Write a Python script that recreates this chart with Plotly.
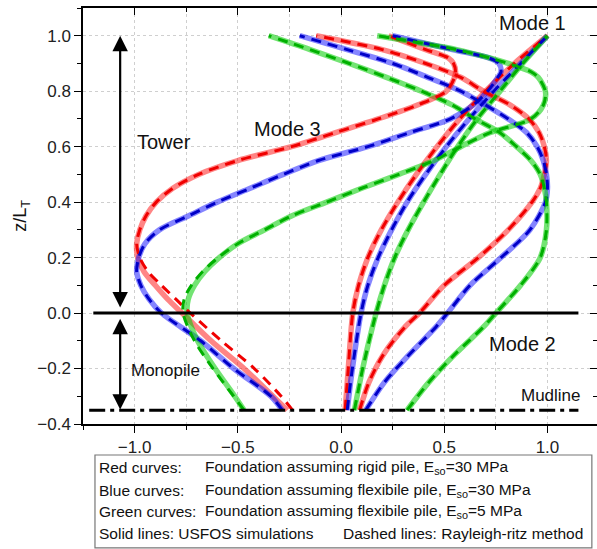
import plotly.graph_objects as go

# ---------------------------------------------------------------------------
# Normalised mode shapes x(z) of the tower + monopile, z = height / L_T
# ---------------------------------------------------------------------------
Z_M1 = [-0.35, -0.2, 0.0, 0.1, 0.2, 0.3, 0.4, 0.5, 0.6, 0.7, 0.8, 0.9, 1.0]
RED_M1 = [0.02, 0.035, 0.057, 0.085, 0.13, 0.195, 0.275, 0.365, 0.465, 0.575, 0.70, 0.84, 1.0]
BLUE_M1 = [0.03, 0.055, 0.097, 0.13, 0.18, 0.245, 0.32, 0.41, 0.51, 0.62, 0.74, 0.87, 1.0]
GREEN_M1 = [0.065, 0.105, 0.17, 0.21, 0.26, 0.325, 0.40, 0.48, 0.565, 0.66, 0.77, 0.88, 1.0]

Z_M2 = [-0.35, -0.25, -0.15, -0.05, 0.0, 0.1, 0.2, 0.3, 0.4, 0.45, 0.5, 0.55, 0.6,
        0.65, 0.7, 0.75, 0.8, 0.85, 0.9, 0.95, 1.0]
RED_M2 = [0.09, 0.135, 0.205, 0.31, 0.38, 0.50, 0.665, 0.81, 0.925, 0.965, 0.985, 0.995,
          0.985, 0.96, 0.91, 0.82, 0.69, 0.58, 0.41, 0.20, -0.12]
BLUE_M2 = [0.12, 0.21, 0.33, 0.46, 0.516, 0.625, 0.775, 0.915, 0.99, 1.0, 0.995, 0.98,
           0.95, 0.90, 0.81, 0.70, 0.58, 0.42, 0.25, 0.03, -0.20]
GREEN_M2 = [0.32, 0.425, 0.55, 0.69, 0.75, 0.87, 0.965, 0.995, 0.995, 0.985, 0.965, 0.92,
            0.85, 0.77, 0.65, 0.54, 0.39, 0.22, 0.04, -0.15, -0.35]

Z_M3 = [-0.35, -0.3, -0.2, -0.1, 0.0, 0.05, 0.1, 0.15, 0.2, 0.25, 0.3, 0.35, 0.4, 0.45,
        0.5, 0.55, 0.6, 0.65, 0.7, 0.75, 0.8, 0.85, 0.87, 0.9, 0.92, 0.95, 1.0]
RED_M3_SOLID = [-0.26, -0.33, -0.47, -0.63, -0.77, -0.84, -0.90, -0.955, -0.985, -0.99, -0.975,
                -0.945, -0.895, -0.815, -0.69, -0.50, -0.24, -0.03, 0.18, 0.37, 0.51, 0.55,
                0.555, 0.545, 0.52, 0.41, 0.23]
RED_M3_DASH = [-0.235, -0.29, -0.42, -0.58, -0.73, -0.80, -0.87, -0.935, -0.975, -0.99, -0.975,
               -0.945, -0.895, -0.815, -0.69, -0.50, -0.24, -0.03, 0.18, 0.37, 0.51, 0.55,
               0.555, 0.545, 0.52, 0.41, 0.23]
BLUE_M3 = [-0.285, -0.34, -0.52, -0.68, -0.87, -0.93, -0.97, -0.99, -0.98, -0.95, -0.88,
           -0.74, -0.60, -0.44, -0.28, -0.11, 0.13, 0.33, 0.53, 0.64, 0.71, 0.76, 0.775,
           0.765, 0.716, 0.54, 0.25]
GREEN_M3_SOLID = [-0.47, -0.515, -0.61, -0.695, -0.745, -0.74, -0.71, -0.66, -0.59, -0.50,
                  -0.37, -0.24, -0.07, 0.10, 0.28, 0.45, 0.58, 0.72, 0.92, 0.98, 0.99, 0.955,
                  0.92, 0.81, 0.72, 0.56, 0.175]
GREEN_M3_DASH = [-0.47, -0.52, -0.62, -0.71, -0.765, -0.76, -0.725, -0.67, -0.595, -0.50,
                 -0.37, -0.24, -0.07, 0.10, 0.28, 0.45, 0.58, 0.72, 0.92, 0.98, 0.99, 0.955,
                 0.92, 0.81, 0.72, 0.56, 0.175]

# Reference levels: seabed (z = 0) and mudline
SEABED_Z = 0.0
SEABED_X = [-1.2, 1.15]
MUDLINE_Z = -0.35
MUDLINE_X = [-1.22, 1.15]

# Extent arrows for the tower and the monopile
ARROW_X = -1.07
TOWER_SPAN = [0.015, 1.0]
PILE_SPAN = [-0.015, -0.348]

X_TICKS = [-1.0, -0.5, 0.0, 0.5, 1.0]
Y_TICKS = [-0.4, -0.2, 0.0, 0.2, 0.4, 0.6, 0.8, 1.0]

FONT = "Arial, Liberation Sans, sans-serif"

SOLID = {"red": "rgba(255,0,0,0.48)", "blue": "rgba(0,0,255,0.48)",
         "green": "rgba(0,205,0,0.55)"}
DASHED = {"red": "#f00000", "blue": "#0000c8", "green": "#00b000"}

solid_curves = [
    ("red", Z_M1, RED_M1), ("blue", Z_M1, BLUE_M1), ("green", Z_M1, GREEN_M1),
    ("red", Z_M2, RED_M2), ("blue", Z_M2, BLUE_M2), ("green", Z_M2, GREEN_M2),
    ("red", Z_M3, RED_M3_SOLID), ("blue", Z_M3, BLUE_M3), ("green", Z_M3, GREEN_M3_SOLID),
]
dashed_curves = [
    ("red", Z_M1, RED_M1), ("blue", Z_M1, BLUE_M1), ("green", Z_M1, GREEN_M1),
    ("red", Z_M2, RED_M2), ("blue", Z_M2, BLUE_M2), ("green", Z_M2, GREEN_M2),
    ("red", Z_M3, RED_M3_DASH), ("blue", Z_M3, BLUE_M3), ("green", Z_M3, GREEN_M3_DASH),
]

fig = go.Figure()

# USFOS simulations (solid, translucent)
for colour, z, x in solid_curves:
    fig.add_trace(go.Scatter(x=x, y=z, mode="lines", showlegend=False, hoverinfo="skip",
                             line=dict(color=SOLID[colour], width=5.5, shape="spline",
                                       smoothing=0.85)))

# Rayleigh-Ritz results (dashed)
for colour, z, x in dashed_curves:
    fig.add_trace(go.Scatter(x=x, y=z, mode="lines", showlegend=False, hoverinfo="skip",
                             line=dict(color=DASHED[colour], width=3, shape="spline",
                                       smoothing=0.85, dash="10px,7px")))

# Seabed and mudline
fig.add_trace(go.Scatter(x=SEABED_X, y=[SEABED_Z] * 2, mode="lines", showlegend=False,
                         hoverinfo="skip", line=dict(color="black", width=3)))
fig.add_trace(go.Scatter(x=MUDLINE_X, y=[MUDLINE_Z] * 2, mode="lines", showlegend=False,
                         hoverinfo="skip",
                         line=dict(color="black", width=3, dash="16px,5px,4px,5px")))

# Mirror axes carrying the inward ticks on the top and right frame
fig.add_trace(go.Scatter(x=[None], y=[None], xaxis="x2", yaxis="y2", showlegend=False,
                         hoverinfo="skip"))

annotations = []
for span in (TOWER_SPAN, PILE_SPAN):
    annotations.append(dict(x=ARROW_X, y=span[1], ax=ARROW_X, ay=span[0], xref="x", yref="y",
                            axref="x", ayref="y", text="", showarrow=True, arrowhead=2,
                            arrowside="end+start", arrowsize=1.4, arrowwidth=2.2,
                            arrowcolor="black", standoff=0, startstandoff=0))

labels = [
    ("Tower", -1.0, 0.617, 20, "left"),
    ("Mode 3", -0.259, 0.664, 20, "center"),
    ("Mode 1", 0.927, 1.046, 20, "center"),
    ("Mode 2", 0.879, -0.112, 20, "center"),
    ("Monopile", -0.848, -0.208, 17, "center"),
    ("Mudline", 1.019, -0.298, 17, "center"),
]
for text, x, y, size, anchor in labels:
    annotations.append(dict(x=x, y=y, xref="x", yref="y", text=text, showarrow=False,
                            xanchor=anchor, yanchor="middle",
                            font=dict(family=FONT, size=size, color="#111")))

# Key box below the axes
key_left = [
    "Red curves:", "Blue curves:", "Green curves:", "Solid lines: USFOS simulations",
]
key_right = [
    "Foundation assuming rigid pile, E<sub>so</sub>=30 MPa",
    "Foundation assuming flexibile pile, E<sub>so</sub>=30 MPa",
    "Foundation assuming flexibile pile, E<sub>so</sub>=5 MPa",
    "Dashed lines: Rayleigh-ritz method",
]
key_rows = [-0.105, -0.1587, -0.2108, -0.2644]
key_right_x = [0.2335, 0.2335, 0.2335, 0.502]
for row, left, right, rx in zip(key_rows, key_left, key_right, key_right_x):
    annotations.append(dict(x=0.0272, y=row, xref="paper", yref="paper", text=left,
                            showarrow=False, xanchor="left", yanchor="middle",
                            font=dict(family=FONT, size=15.5, color="#111")))
    annotations.append(dict(x=rx, y=row, xref="paper", yref="paper", text=right,
                            showarrow=False, xanchor="left", yanchor="middle",
                            font=dict(family=FONT, size=15.5, color="#111")))

shapes = [dict(type="rect", xref="paper", yref="paper", x0=0.0233, x1=0.990,
               y0=-0.298, y1=-0.0745, line=dict(color="#777", width=1.2),
               fillcolor="rgba(0,0,0,0)", layer="above")]

X_RANGE = [-1.25, 1.24]
Y_RANGE = [-0.4, 1.1]

axis_common = dict(showline=True, linecolor="black", linewidth=1.5, zeroline=False,
                   tickfont=dict(family=FONT, size=17, color="#222"), tickformat=".1f",
                   tickwidth=1.3, tickcolor="black")

fig.update_layout(
    width=597, height=549,
    margin=dict(l=83, r=0, t=8, b=125, pad=0),
    paper_bgcolor="white", plot_bgcolor="white",
    showlegend=False,
    xaxis=dict(range=X_RANGE, tickvals=X_TICKS, ticks="outside", ticklen=7,
               showgrid=True, gridcolor="#cfcfcf", griddash="dot", gridwidth=1,
               minor=dict(dtick=0.25, tick0=0, ticks="outside", ticklen=4, tickwidth=1.2,
                          tickcolor="black", showgrid=True, gridcolor="#cfcfcf",
                          griddash="dot", gridwidth=1),
               **axis_common),
    yaxis=dict(range=Y_RANGE, tickvals=Y_TICKS, ticks="outside", ticklen=7,
               showgrid=True, gridcolor="#cfcfcf", griddash="dot", gridwidth=1,
               minor=dict(dtick=0.1, tick0=0, ticks="outside", ticklen=4, tickwidth=1.2,
                          tickcolor="black", showgrid=False),
               title=dict(text="z/L<sub>T</sub>", standoff=6,
                          font=dict(family=FONT, size=18, color="#111")),
               **axis_common),
    xaxis2=dict(range=X_RANGE, overlaying="x", side="top", tickvals=X_TICKS,
                ticks="inside", ticklen=7, tickwidth=1.3, tickcolor="black",
                showticklabels=False, showgrid=False, zeroline=False, showline=True,
                linecolor="black", linewidth=1.5,
                minor=dict(dtick=0.25, tick0=0, ticks="inside", ticklen=4, tickwidth=1.2,
                           tickcolor="black", showgrid=False)),
    yaxis2=dict(range=Y_RANGE, overlaying="y", side="right", tickvals=Y_TICKS,
                ticks="inside", ticklen=7, tickwidth=1.3, tickcolor="black",
                showticklabels=False, showgrid=False, zeroline=False, showline=True,
                linecolor="black", linewidth=1.5,
                minor=dict(dtick=0.1, tick0=0, ticks="inside", ticklen=4, tickwidth=1.2,
                           tickcolor="black", showgrid=False)),
    annotations=annotations,
    shapes=shapes,
)

fig.write_html("out.html")
